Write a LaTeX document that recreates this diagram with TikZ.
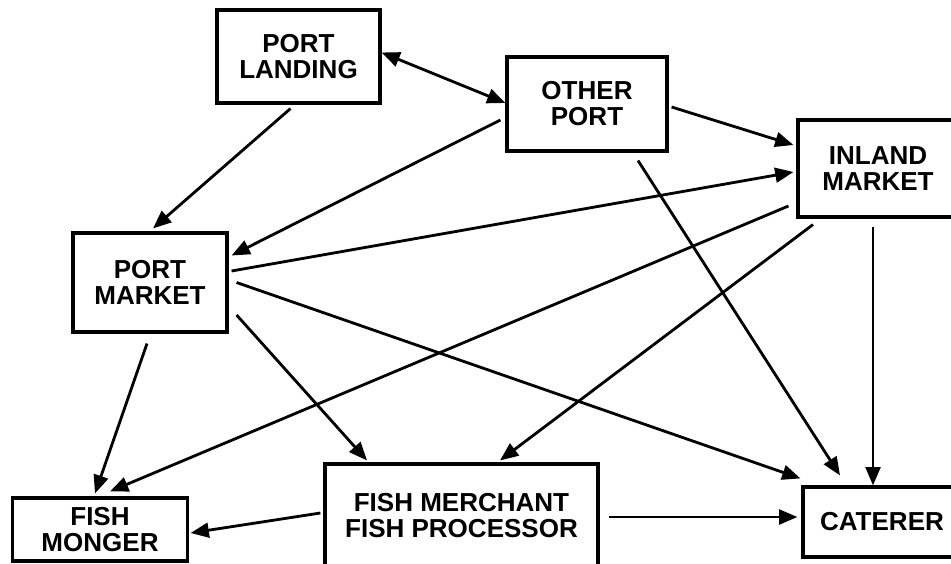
\documentclass[tikz,border=0pt]{standalone}
\usepackage{fontspec}
\setmainfont{Liberation Sans}
\usetikzlibrary{arrows.meta,calc}
\tikzset{box/.style={draw,line width=2.2pt,inner sep=0pt,align=center,font=\bfseries\fontsize{18.5}{18.5}\selectfont},
  flow/.style={line width=2pt,-{Triangle[length=13pt,width=10.5pt]}}}

\begin{document}
\begin{tikzpicture} [x=0.025cm,y=-0.025cm]
            \useasboundingbox (0,0) rectangle (951,564);
            \clip (0,0) rectangle (951,564);
            \begin{scope}
                \node[box,minimum width=4.075cm,minimum height=2.325cm] (pland) at (298.5,56.5) {PORT\\LANDING};
                \node[box,minimum width=4cm,minimum height=2.35cm] (oport) at (587,104) {OTHER\\PORT};
                \node[box,minimum width=4cm,minimum height=2.425cm] (imarket) at (878,168.5) {INLAND\\MARKET};
                \node[box,minimum width=3.85cm,minimum height=2.475cm] (pmarket) at (150,282.5) {PORT\\MARKET};
                \node[box,minimum width=4.375cm,minimum height=1.575cm] (fmonger) at (100,529.5) {FISH\\MONGER};
                \node[box,minimum width=6.825cm,minimum height=2.6cm] (fmerch) at (461.5,516) {FISH MERCHANT\\FISH PROCESSOR};
                \node[box,minimum width=3.95cm,minimum height=1.75cm] (caterer) at (882,522) {CATERER};

                % from the port
                \draw[flow,{Triangle[length=13pt,width=10.5pt]}-{Triangle[length=13pt,width=10.5pt]}] ($(pland.east)+(0,-4)$) -- ($(oport.west)+(0,-1)$);
                \draw[flow] ($(pland.south)+(-8,4)$) -- ($(pmarket.north)+(3,-3)$);
                \draw[flow] ($(oport.west)+(-5,16)$) -- ($(pmarket.east)+(3,-27)$);
                \draw[flow] ($(oport.east)+(3,3)$) -- ($(imarket.west)+(-3,-23.5)$);
                \draw[flow] ($(oport.south)+(51,8)$) -- ($(caterer.north)+(-42,-10)$);

                % from the port market
                \draw[flow] ($(pmarket.east)+(3,-11.5)$) -- ($(imarket.west)+(-3,3.5)$);
                \draw[flow] ($(pmarket.east)+(8,0)$) -- ($(caterer.north west)+(-1,-7)$);
                \draw[flow] ($(pmarket.east)+(8,32.5)$) -- ($(fmerch.north)+(-94.5,-2)$);
                \draw[flow] ($(pmarket.south)+(-3,10)$) -- ($(fmonger.north)+(-5,-3)$);

                % from the inland market
                \draw[flow] ($(imarket.west)+(-8,37.5)$) -- ($(fmonger.north)+(10,-5)$);
                \draw[flow] ($(imarket.south)+(-65,6)$) -- ($(fmerch.north)+(38.5,-2)$);
                \draw[flow] ($(imarket.south)+(-5,8)$) -- ($(caterer.north)+(-9,0)$);

                % from the merchant
                \draw[flow] ($(fmerch.west)+(-3,-3)$) -- ($(fmonger.east)+(1.5,3.5)$);
                \draw[flow] ($(fmerch.east)+(9,1)$) -- ($(caterer.west)+(-4,-5)$);
            \end{scope}
        \end{tikzpicture}
\end{document}
